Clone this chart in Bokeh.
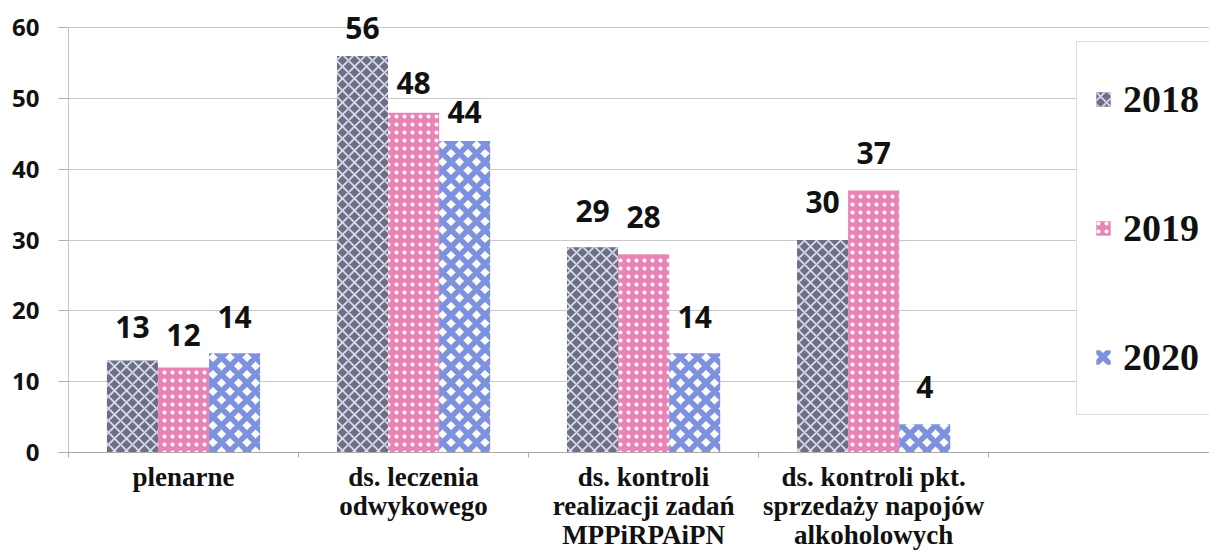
from bokeh.plotting import figure
from bokeh.models import (ColumnDataSource, Range1d, FixedTicker, Legend,
                          LegendItem, LabelSet)
from bokeh.core.properties import value
from bokeh.embed import file_html
from bokeh.resources import INLINE

# ---- data -------------------------------------------------------------
categories = ["plenarne",
              "ds. leczenia\nodwykowego",
              "ds. kontroli\nrealizacji zadań\nMPPiRPAiPN",
              "ds. kontroli pkt.\nsprzedaży napojów\nalkoholowych"]
years = ["2018", "2019", "2020"]
v2018 = [13, 56, 29, 30]
v2019 = [12, 48, 28, 37]
v2020 = [14, 44, 14, 4]
y_ticks = [0, 10, 20, 30, 40, 50, 60]

series = [v2018, v2019, v2020]

# ---- styles -----------------------------------------------------------
styles = [
    dict(fill_color="#6f6f80", hatch_pattern="diagonal_cross",
         hatch_color="#d3dbf7", hatch_scale=12, hatch_weight=1.8),
    dict(fill_color="#e984b6", hatch_pattern="dot",
         hatch_color="#ffffff", hatch_scale=8, hatch_weight=1.0),
    dict(fill_color="#fbfbf2", hatch_pattern="diagonal_cross",
         hatch_color="#7d92df", hatch_scale=17, hatch_weight=5.5),
]
# label distance above bar top (screen px), per series / per category
label_offsets = [[22, 17, 25, 27],
                 [22, 19, 26, 27],
                 [25, 18, 25, 26]]
bar_w = 0.222
offsets = [-bar_w, 0.0, bar_w]

p = figure(width=1209, height=553, output_backend="svg", toolbar_location=None,
           x_range=Range1d(0, 4.96), y_range=Range1d(0, 62),
           min_border_left=68, min_border_right=0, min_border_top=13,
           min_border_bottom=101)
p.outline_line_color = None
p.background_fill_color = "white"
p.border_fill_color = "white"

centers = [i + 0.5 for i in range(len(categories))]

renderers = []
for k, (yr, vals) in enumerate(zip(years, series)):
    src = ColumnDataSource(dict(x=[c + offsets[k] for c in centers],
                                top=vals, label=[str(v) for v in vals],
                                off=label_offsets[k]))
    r = p.vbar(x="x", top="top", width=bar_w, bottom=0, source=src,
               line_color=None, **styles[k])
    renderers.append(r)
    lbl = LabelSet(x="x", y="top", text="label", source=src,
                   text_align="center", text_baseline="alphabetic",
                   y_offset="off", text_font=value("Open Sans"),
                   text_font_style="bold",
                   text_font_size="30px", text_color="#111111")
    p.add_layout(lbl)

# ---- axes -------------------------------------------------------------
p.yaxis.ticker = FixedTicker(ticks=y_ticks)
p.yaxis.bounds = (0, 60)
p.yaxis.axis_line_color = "#c4c4c4"
p.yaxis.major_tick_line_color = "#b0b0b0"
p.yaxis.major_tick_out = 10
p.yaxis.major_tick_in = 0
p.yaxis.minor_tick_line_color = None
p.yaxis.major_label_standoff = 19
p.yaxis.major_label_text_font = "Open Sans"
p.yaxis.major_label_text_font_style = "bold"
p.yaxis.major_label_text_font_size = "24px"
p.yaxis.major_label_text_color = "#111111"

p.xaxis.ticker = FixedTicker(ticks=centers,
                             minor_ticks=list(range(len(categories) + 1)))
p.xaxis.major_label_overrides = {c: name for c, name in zip(centers, categories)}
p.xaxis.axis_line_color = "#a8a8a8"
p.xaxis.major_tick_line_color = None
p.xaxis.minor_tick_line_color = "#a8a8a8"
p.xaxis.minor_tick_out = 5
p.xaxis.minor_tick_in = 0
p.xaxis.major_label_standoff = 3
p.xaxis.major_label_text_font = "Liberation Serif"
p.xaxis.major_label_text_font_style = "bold"
p.xaxis.major_label_text_font_size = "27px"
p.xaxis.major_label_text_line_height = 0.98
p.xaxis.major_label_text_color = "#111111"

p.xgrid.grid_line_color = None
p.ygrid.ticker = FixedTicker(ticks=y_ticks)
p.ygrid.grid_line_color = "#c8c8c8"
p.ygrid.grid_line_width = 1

# ---- legend -----------------------------------------------------------
legend = Legend(items=[LegendItem(label=yr, renderers=[r]) for yr, r in zip(years, renderers)],
                location=(1008, 37), orientation="vertical",
                label_text_font="Liberation Serif", label_text_font_style="bold",
                label_text_font_size="38px", label_text_color="#111111",
                label_height=80, glyph_height=18, glyph_width=18,
                spacing=49, padding=17, label_standoff=11, margin=0,
                border_line_color="#bdbdbd", border_line_width=1,
                background_fill_color="white", background_fill_alpha=1.0)
p.add_layout(legend)

open("out.html", "w").write(file_html(p, INLINE))
